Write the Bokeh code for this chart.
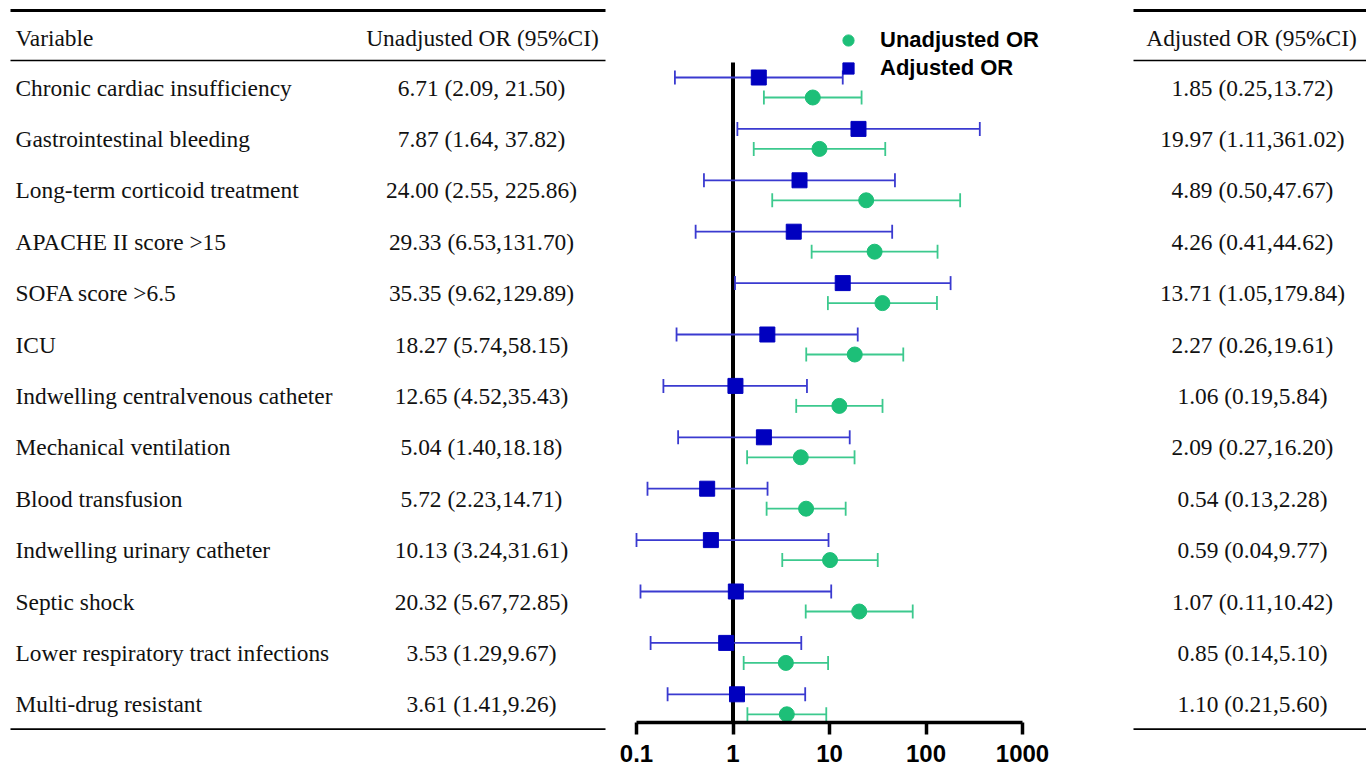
import numpy as np
from bokeh.plotting import figure
from bokeh.layouts import row
from bokeh.models import (Range1d, Legend, LegendItem, FixedTicker, LogAxis, LinearAxis,
                          BasicTickFormatter, LogScale)
from bokeh.embed import file_html
from bokeh.resources import INLINE
from bokeh.core.properties import value

variables = ["Chronic cardiac insufficiency", "Gastrointestinal bleeding", "Long-term corticoid treatment",
             "APACHE II score >15", "SOFA score >6.5", "ICU", "Indwelling centralvenous catheter",
             "Mechanical ventilation", "Blood transfusion", "Indwelling urinary catheter",
             "Septic shock", "Lower respiratory tract infections", "Multi-drug resistant"]
unadj_or = [6.71, 7.87, 24.00, 29.33, 35.35, 18.27, 12.65, 5.04, 5.72, 10.13, 20.32, 3.53, 3.61]
unadj_lo = [2.09, 1.64, 2.55, 6.53, 9.62, 5.74, 4.52, 1.40, 2.23, 3.24, 5.67, 1.29, 1.41]
unadj_hi = [21.50, 37.82, 225.86, 131.70, 129.89, 58.15, 35.43, 18.18, 14.71, 31.61, 72.85, 9.67, 9.26]
adj_or = [1.85, 19.97, 4.89, 4.26, 13.71, 2.27, 1.06, 2.09, 0.54, 0.59, 1.07, 0.85, 1.10]
adj_lo = [0.25, 1.11, 0.50, 0.41, 1.05, 0.26, 0.19, 0.27, 0.13, 0.04, 0.11, 0.14, 0.21]
adj_hi = [13.72, 361.02, 47.67, 44.62, 179.84, 19.61, 5.84, 16.20, 2.28, 9.77, 10.42, 5.10, 5.60]
unadj_text = ["6.71 (2.09, 21.50)", "7.87 (1.64, 37.82)", "24.00 (2.55, 225.86)", "29.33 (6.53,131.70)",
              "35.35 (9.62,129.89)", "18.27 (5.74,58.15)", "12.65 (4.52,35.43)", "5.04 (1.40,18.18)",
              "5.72 (2.23,14.71)", "10.13 (3.24,31.61)", "20.32 (5.67,72.85)", "3.53 (1.29,9.67)",
              "3.61 (1.41,9.26)"]
adj_text = ["1.85 (0.25,13.72)", "19.97 (1.11,361.02)", "4.89 (0.50,47.67)", "4.26 (0.41,44.62)",
            "13.71 (1.05,179.84)", "2.27 (0.26,19.61)", "1.06 (0.19,5.84)", "2.09 (0.27,16.20)",
            "0.54 (0.13,2.28)", "0.59 (0.04,9.77)", "1.07 (0.11,10.42)", "0.85 (0.14,5.10)",
            "1.10 (0.21,5.60)"]
tick_values = [0.1, 1, 10, 100, 1000]
headers = ["Variable", "Unadjusted OR (95%CI)", "Adjusted OR (95%CI)"]
legend_labels = ["Unadjusted OR", "Adjusted OR"]

GREEN = "#1dbf78"
GREEN_L = "#3cc98e"
BLUE = "#0000bf"
BLUE_L = "#3a3ad0"
SERIF = value("Liberation Serif")
FS = "23.4px"
TXT = "#111111"

n = len(variables)
row_y = [87 + 51.4 * i for i in range(n)]

FH = 722          # frame height (axis line of the forest plot)
XL, XM, XR = 608, 1128, 1366   # column boundaries
dec = 96.5        # pixels per decade
lo_log = -1 - (636 - XL) / dec
hi_log = 3 + (XM - 1022) / dec


def plain_axis(tick, bounds="auto"):
    a = LinearAxis(bounds=bounds, ticker=FixedTicker(ticks=[tick]))
    a.major_tick_line_color = None
    a.minor_tick_line_color = None
    a.major_tick_in = 0
    a.minor_tick_out = 0
    a.minor_tick_in = 0
    a.major_label_standoff = 0
    a.major_label_text_color = None
    a.major_label_text_font_size = "1px"
    return a


def table_fig(x0, x1, rule_bounds):
    f = figure(frame_width=x1 - x0, frame_height=FH, x_range=Range1d(x0, x1),
               y_range=Range1d(FH, 0), x_axis_location=None, y_axis_location=None,
               toolbar_location=None, output_backend="svg", min_border=0,
               outline_line_color=None)
    f.grid.visible = False
    # invisible spacer panel, then a bounded axis line used as the table's bottom rule
    mid_x = (x0 + x1) / 2
    sp = plain_axis(mid_x)
    sp.axis_line_color = None
    sp.major_tick_out = 8
    f.add_layout(sp, "below")
    ra = plain_axis(mid_x, rule_bounds)
    ra.axis_line_width = 4.5
    ra.axis_line_color = "black"
    ra.major_tick_out = 0
    f.add_layout(ra, "below")
    f.segment(x0=[rule_bounds[0]] * 2, x1=[rule_bounds[1]] * 2, y0=[10, 60], y1=[10, 60],
              line_color="black", line_width=[3, 1.5])
    return f


# ---------- left table ----------
left = table_fig(0, XL, (10, 605))
left.text(x=[15, 482], y=[37, 37], text=headers[:2], text_font=SERIF, text_font_size=FS,
          text_baseline="middle", text_align=["left", "center"], text_color=TXT)
left.text(x=[15] * n, y=row_y, text=variables, text_font=SERIF, text_font_size=FS,
          text_baseline="middle", text_align="left", text_color=TXT)
left.text(x=[481] * n, y=row_y, text=unadj_text, text_font=SERIF, text_font_size=FS,
          text_baseline="middle", text_align="center", text_color=TXT)

# ---------- right table ----------
right = table_fig(XM, XR, (1133, XR))
right.text(x=[1251], y=[37], text=[headers[2]], text_font=SERIF, text_font_size=FS,
           text_baseline="middle", text_align="center", text_color=TXT)
right.text(x=[1252] * n, y=row_y, text=adj_text, text_font=SERIF, text_font_size=FS,
           text_baseline="middle", text_align="center", text_color=TXT)

# ---------- forest plot ----------
mid = figure(frame_width=XM - XL, frame_height=FH, x_axis_type=None,
             x_range=Range1d(10 ** lo_log, 10 ** hi_log), y_range=Range1d(FH, 0),
             y_axis_location=None, toolbar_location=None, output_backend="svg",
             min_border=0, min_border_bottom=46, outline_line_color=None)
mid.x_scale = LogScale()
mid.grid.visible = False
ax = LogAxis(bounds=(0.1, 1000), ticker=FixedTicker(ticks=tick_values, minor_ticks=[]),
             formatter=BasicTickFormatter())
ax.axis_line_width = 3.5
ax.axis_line_color = "black"
ax.major_tick_line_width = 3.5
ax.major_tick_out = 12
ax.major_tick_in = 0
ax.minor_tick_out = 0
ax.minor_tick_in = 0
ax.major_label_text_font = "Liberation Sans"
ax.major_label_text_font_style = "bold"
ax.major_label_text_font_size = "24px"
ax.major_label_text_color = "black"
ax.major_label_standoff = 10
mid.add_layout(ax, "below")

mid.segment(x0=[1], x1=[1], y0=[62], y1=[FH], line_color="black", line_width=4)

ya = [y - 10 for y in row_y]
yu = [y + 10 for y in row_y]
alo = [max(v, 0.1) for v in adj_lo]
ulo = [max(v, 0.1) for v in unadj_lo]
cap = 7
lw = 1.8
mid.segment(x0=ulo, x1=unadj_hi, y0=yu, y1=yu, line_color=GREEN_L, line_width=lw)
mid.segment(x0=ulo, x1=ulo, y0=[y - cap for y in yu], y1=[y + cap for y in yu],
            line_color=GREEN_L, line_width=lw)
mid.segment(x0=unadj_hi, x1=unadj_hi, y0=[y - cap for y in yu], y1=[y + cap for y in yu],
            line_color=GREEN_L, line_width=lw)
r_u = mid.scatter(x=unadj_or, y=yu, marker="circle", size=15, fill_color=GREEN, line_color=GREEN)
mid.segment(x0=alo, x1=adj_hi, y0=ya, y1=ya, line_color=BLUE_L, line_width=lw)
mid.segment(x0=alo, x1=alo, y0=[y - cap for y in ya], y1=[y + cap for y in ya],
            line_color=BLUE_L, line_width=lw)
mid.segment(x0=adj_hi, x1=adj_hi, y0=[y - cap for y in ya], y1=[y + cap for y in ya],
            line_color=BLUE_L, line_width=lw)
r_a = mid.scatter(x=adj_or, y=ya, marker="square", size=15, fill_color=BLUE, line_color=BLUE)

legend = Legend(items=[LegendItem(label=legend_labels[0], renderers=[r_u]),
                       LegendItem(label=legend_labels[1], renderers=[r_a])],
                location=(834 - XL, 640), glyph_width=28, glyph_height=28, spacing=0,
                label_standoff=18, padding=0, margin=0, border_line_color=None,
                background_fill_alpha=0, label_text_font="Liberation Sans",
                label_text_font_style="bold", label_text_font_size="22px",
                label_text_color="black", label_height=28)
mid.add_layout(legend, "center")

layout = row(left, mid, right, spacing=0)
open("out.html", "w").write(file_html(layout, INLINE))
